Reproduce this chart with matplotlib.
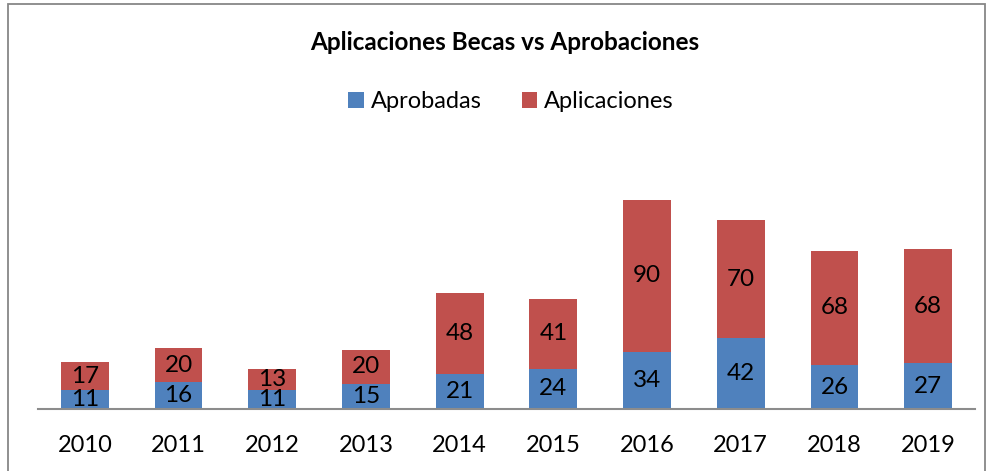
import numpy as np
import matplotlib
matplotlib.use("Agg")
import matplotlib.pyplot as plt
from matplotlib.patches import Rectangle

years = ["2010", "2011", "2012", "2013", "2014", "2015", "2016", "2017", "2018", "2019"]
aprobadas = [11, 16, 11, 15, 21, 24, 34, 42, 26, 27]
aplicaciones = [17, 20, 13, 20, 48, 41, 90, 70, 68, 68]

blue = "#4F81BD"
red = "#C0504D"
plt.rcParams['font.family'] = ['Lato', 'DejaVu Sans']

W, H = 992, 471
fig = plt.figure(figsize=(W/100, H/100), dpi=100)

# frame of the chart area
fig.patches.append(Rectangle((8/W, -0.01), (985-8)/W, (471-4)/H + 0.01,
                             transform=fig.transFigure, fill=False,
                             edgecolor="#878787", linewidth=1.3))

ax = fig.add_axes([38/W, 62/H, (975-38)/W, 236/H])
x = np.arange(len(years))
b1 = ax.bar(x, aprobadas, width=0.51, color=blue, label="Aprobadas")
b2 = ax.bar(x, aplicaciones, width=0.51, bottom=aprobadas, color=red, label="Aplicaciones")
ax.bar_label(b1, label_type='center', fontsize=17.5)
ax.bar_label(b2, label_type='center', fontsize=17.5)

ax.set_xlim(-0.5, 9.5)
ax.set_ylim(0, 140)
ax.set_xticks(x)
ax.set_xticklabels(years, fontsize=17)
ax.tick_params(axis='x', length=0, pad=19)
ax.set_yticks([])
for s in ['top', 'right', 'left']:
    ax.spines[s].set_visible(False)
ax.spines['bottom'].set_color("#8c8c8c")
ax.spines['bottom'].set_linewidth(1.5)

fig.text(505/W, 1 - 43/H, "Aplicaciones Becas vs Aprobaciones", ha='center', va='center',
         fontsize=17.5, fontweight='bold')
fig.legend(handles=[b1, b2], loc='center', bbox_to_anchor=(511/W, 1 - 102/H),
           ncol=2, frameon=False, fontsize=17, handlelength=0.65, handleheight=0.65,
           handletextpad=0.3, columnspacing=1.7)

fig.savefig("out.png", dpi=100)
